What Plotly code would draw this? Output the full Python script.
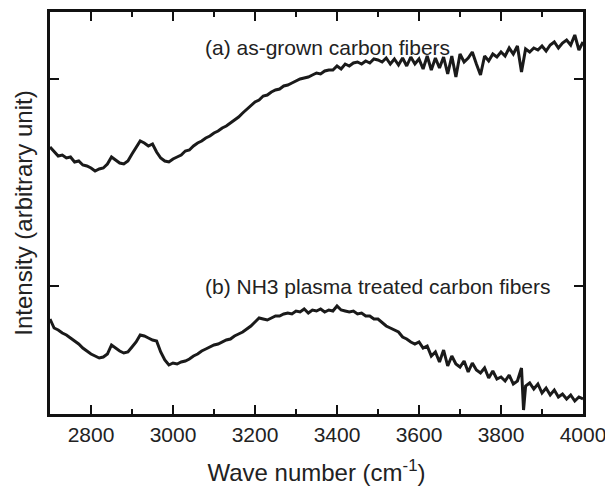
import plotly.graph_objects as go

wavenumber = list(range(2700, 4001, 10))

intensity_a = [
    267, 262, 258, 259, 256, 257, 252, 253, 249, 248,
    246, 243, 245, 246, 250, 257, 254, 251, 250, 253,
    260, 266, 273, 271, 268, 270, 262, 256, 253, 252,
    255, 257, 259, 263, 264, 268, 271, 273, 276, 278,
    281, 283, 286, 288, 291, 294, 297, 301, 305, 308,
    312, 314, 318, 319, 322, 324, 325, 328, 329, 331,
    333, 335, 336, 337, 339, 341, 340, 343, 344, 344,
    348, 345, 350, 348, 351, 352, 350, 353, 351, 355,
    354, 352, 356, 350, 355, 349, 356, 348, 357, 350,
    355, 345, 358, 344, 356, 346, 357, 340, 358, 337,
    360, 352, 356, 362, 350, 339, 358, 353, 360, 357,
    362, 358, 366, 360, 368, 342, 365, 362, 366, 364,
    368, 363, 369, 372, 366, 371, 374, 369, 379, 364,
    372,
]

wavenumber_b = list(range(2700, 3851, 10)) + [3855] + list(range(3860, 4001, 10))
intensity_b = [
    95, 86, 84, 81, 79, 76, 73, 70, 66, 63,
    60, 58, 56, 57, 60, 69, 66, 63, 61, 62,
    67, 72, 79, 78, 76, 74, 73, 62, 54, 49,
    51, 50, 52, 53, 55, 58, 60, 63, 65, 67,
    69, 70, 72, 74, 75, 78, 80, 82, 85, 88,
    92, 96, 95, 94, 96, 98, 98, 100, 101, 100,
    103, 102, 105, 101, 104, 103, 105, 102, 104, 103,
    108, 104, 103, 102, 103, 100, 101, 98, 98, 95,
    95, 91, 88, 86, 84, 82, 77, 75, 72, 70,
    72, 66, 68, 58, 62, 52, 64, 48, 58, 50,
    47, 53, 42, 51, 44, 41, 46, 36, 43, 35,
    37, 33, 39, 30, 33, 46, 4, 28, 31, 25,
    30, 21, 26, 19, 24, 17, 20, 15, 19, 13,
    17, 15,
]

label_a = "(a) as-grown carbon fibers"
label_b = "(b) NH3 plasma treated carbon fibers"
y_tick_positions = [128, 335]

font_family = "Liberation Sans, Arial, sans-serif"
line_color = "#1a1a1a"

fig = go.Figure()
fig.add_trace(go.Scatter(x=wavenumber, y=intensity_a, mode="lines",
                         line=dict(color=line_color, width=3), showlegend=False))
fig.add_trace(go.Scatter(x=wavenumber_b, y=intensity_b, mode="lines",
                         line=dict(color=line_color, width=3), showlegend=False))

fig.add_annotation(x=3073, y=367, text=label_a, showarrow=False, xanchor="left",
                   font=dict(family=font_family, size=21, color="#222"))
fig.add_annotation(x=3073, y=128, text=label_b, showarrow=False, xanchor="left",
                   font=dict(family=font_family, size=21, color="#222"))

fig.update_layout(
    width=605, height=486,
    margin=dict(l=50, r=22, t=12, b=72),
    paper_bgcolor="white", plot_bgcolor="white",
    font=dict(family=font_family, size=21, color="#222"),
    xaxis=dict(
        range=[2700, 4000], tick0=0, dtick=200, automargin=False,
        showgrid=False, zeroline=False,
        showline=True, linecolor="#111", linewidth=2.5, mirror="ticks",
        ticks="inside", ticklen=9, tickwidth=2, tickcolor="#111",
        minor=dict(ticks="inside", ticklen=5, tickwidth=2, dtick=100, tickcolor="#111"),
        tickfont=dict(size=21), ticklabeloverflow="allow",
        title=dict(text="Wave number (cm<sup>-1</sup>)", font=dict(size=24), standoff=22),
    ),
    yaxis=dict(
        range=[0, 402], tickvals=y_tick_positions, showticklabels=False, automargin=False,
        showgrid=False, zeroline=False,
        showline=True, linecolor="#111", linewidth=2.5, mirror="ticks",
        ticks="inside", ticklen=9, tickwidth=2, tickcolor="#111",
        title=dict(text="Intensity (arbitrary unit)", font=dict(size=24), standoff=8),
    ),
)

fig.write_html("out.html")
